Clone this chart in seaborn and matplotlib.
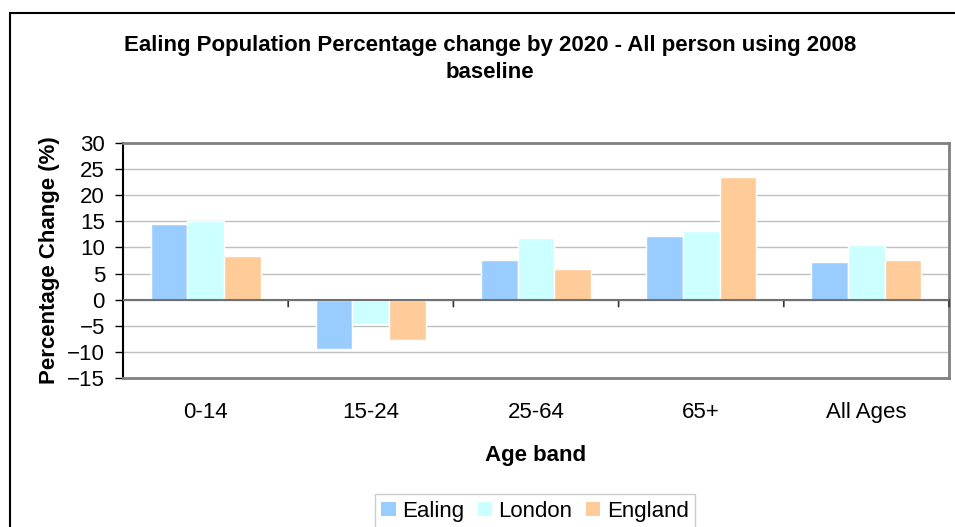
import matplotlib
matplotlib.use("Agg")
import matplotlib.pyplot as plt
import matplotlib.patches as mpatches
import matplotlib.transforms as mtransforms
import seaborn as sns
import pandas as pd

age_bands = ["0-14", "15-24", "25-64", "65+", "All Ages"]
ealing = [14.5, -9.4, 7.6, 12.1, 7.3]
london = [15.0, -4.6, 11.9, 13.2, 10.5]
england = [8.4, -7.7, 5.9, 23.5, 7.5]
areas = ["Ealing", "London", "England"]
colors = ["#99CCFF", "#CCFFFF", "#FFCC99"]

df = pd.DataFrame({
    "Age band": age_bands * 3,
    "Area": [a for a in areas for _ in age_bands],
    "Change": ealing + london + england,
})

sns.set_style("white")
plt.rcParams["font.family"] = ["Liberation Sans", "DejaVu Sans"]
plt.rcParams["text.color"] = "black"
plt.rcParams["axes.labelcolor"] = "black"

FS = 16
W, H = 955, 527
fig = plt.figure(figsize=(W / 100, H / 100), dpi=100)
ax = fig.add_axes([123 / W, 1 - 378 / H, (949 - 123) / W, (378 - 143) / H])

sns.barplot(data=df, x="Age band", y="Change", hue="Area", order=age_bands,
            hue_order=areas, palette=colors, saturation=1, width=0.667,
            gap=0, errorbar=None, ax=ax, zorder=3)

ax.set_ylim(-15, 30)
ax.set_xlim(-0.5, len(age_bands) - 0.5)
ax.set_yticks(range(-15, 31, 5))
ax.yaxis.grid(True, color="#c0c0c0", lw=1, zorder=0)
ax.set_axisbelow(True)

# zero line with category separator ticks
ax.axhline(0, color="#707070", lw=1.5, zorder=4)
trans = mtransforms.offset_copy(ax.transData, fig=fig, x=0, y=-7, units="dots")
for i in range(1, len(age_bands) + 1):
    ax.annotate("", xy=(i - 0.5, 0), xytext=(i - 0.5, 0),
                textcoords=trans, arrowprops=dict(arrowstyle="-", lw=1.2, color="#333333",
                                                  shrinkA=0, shrinkB=0))

for side in ["top", "right", "bottom"]:
    ax.spines[side].set_color("#808080")
    ax.spines[side].set_linewidth(2)
ax.spines["left"].set_color("black")
ax.spines["left"].set_linewidth(1.5)

ax.tick_params(axis="y", direction="out", length=6, width=1, color="black",
               labelsize=FS, pad=7, left=True, labelcolor="black")
ax.tick_params(axis="x", length=0, labelsize=FS, pad=17, labelcolor="black")

ax.set_xlabel("Age band", fontsize=FS, fontweight="bold", labelpad=16)
ax.set_ylabel("Percentage Change (%)", fontsize=FS, fontweight="bold", labelpad=5)

fig.text(490 / W, 1 - 45 / H, "Ealing Population Percentage change by 2020 - All person using 2008",
         ha="center", va="center", fontsize=FS, fontweight="bold")
fig.text(490 / W, 1 - 72 / H, "baseline", ha="center", va="center",
         fontsize=FS, fontweight="bold")

# outer chart border
fig.patches.append(mpatches.Rectangle((10 / W, -0.2), 1.2, 1.2 - 12.7 / H, transform=fig.transFigure,
                                      fill=False, edgecolor="black", lw=1.5))

ax.legend_.remove()
handles = [mpatches.Patch(facecolor=c, edgecolor="none") for c in colors]
leg = fig.legend(handles, areas, loc="upper center", bbox_to_anchor=(535 / W, 1 - 494 / H),
                 ncol=3, fontsize=FS, frameon=True, fancybox=False, handlelength=0.64,
                 handleheight=0.64, handletextpad=0.3, columnspacing=0.6, borderpad=0.3,
                 borderaxespad=0)
leg.get_frame().set_edgecolor("#c0c0c0")
leg.get_frame().set_linewidth(1)

fig.savefig("out.png", dpi=100)
